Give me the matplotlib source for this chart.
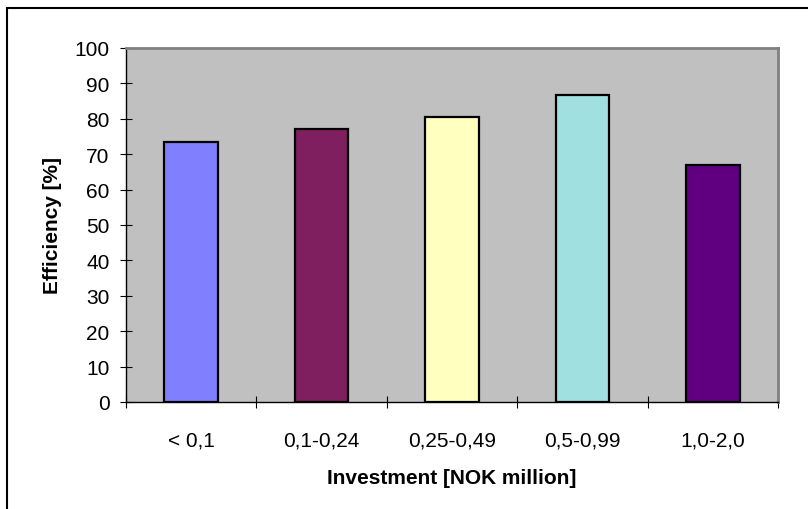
import matplotlib
matplotlib.use('Agg')
import matplotlib.pyplot as plt
from matplotlib.patches import Rectangle

categories = ['< 0,1', '0,1-0,24', '0,25-0,49', '0,5-0,99', '1,0-2,0']
efficiency = [73.5, 77.2, 80.6, 86.6, 67.0]
colors = ['#8080FF', '#7F1F5F', '#FFFFC0', '#A0E0E0', '#600080']

plt.rcParams['font.family'] = ['Liberation Sans', 'DejaVu Sans']

fig = plt.figure(figsize=(8.08, 5.10), dpi=100)
ax = fig.add_axes([126 / 808, 1 - 403 / 510, 652 / 808, 354 / 510])

# outer chart border (only left and top visible)
fig.add_artist(Rectangle((7 / 808, -0.1), 1.0, 1 - 9 / 510 + 0.1, transform=fig.transFigure,
                         fill=False, edgecolor='black', linewidth=1.5))

x = list(range(len(categories)))
ax.bar(x, efficiency, width=0.41, color=colors, edgecolor='black', linewidth=1.6, zorder=3)

ax.set_facecolor('#C0C0C0')
ax.set_xlim(-0.5, len(categories) - 0.5)
ax.set_ylim(0, 100)
ax.set_yticks(range(0, 101, 10))

# category labels between boundary ticks
ax.set_xticks([i - 0.5 for i in range(len(categories) + 1)])
ax.set_xticklabels([])
ax.set_xticks(x, minor=True)
ax.set_xticklabels(categories, minor=True)
ax.tick_params(axis='x', which='minor', length=0, pad=20.5, labelsize=15)
ax.tick_params(axis='x', which='major', direction='inout', length=8.6, width=0.8)
ax.tick_params(axis='y', direction='inout', length=8.6, width=0.8, labelsize=15, pad=7.5)

for side in ['top', 'right']:
    ax.spines[side].set_color('#808080')
    ax.spines[side].set_linewidth(2)
for side in ['left', 'bottom']:
    ax.spines[side].set_color('black')
    ax.spines[side].set_linewidth(1)

ax.set_xlabel('Investment [NOK million]', fontsize=15, fontweight='bold', labelpad=13)
ax.set_ylabel('Efficiency [%]', fontsize=15, fontweight='bold', labelpad=9)

fig.savefig('out.png', dpi=100)
